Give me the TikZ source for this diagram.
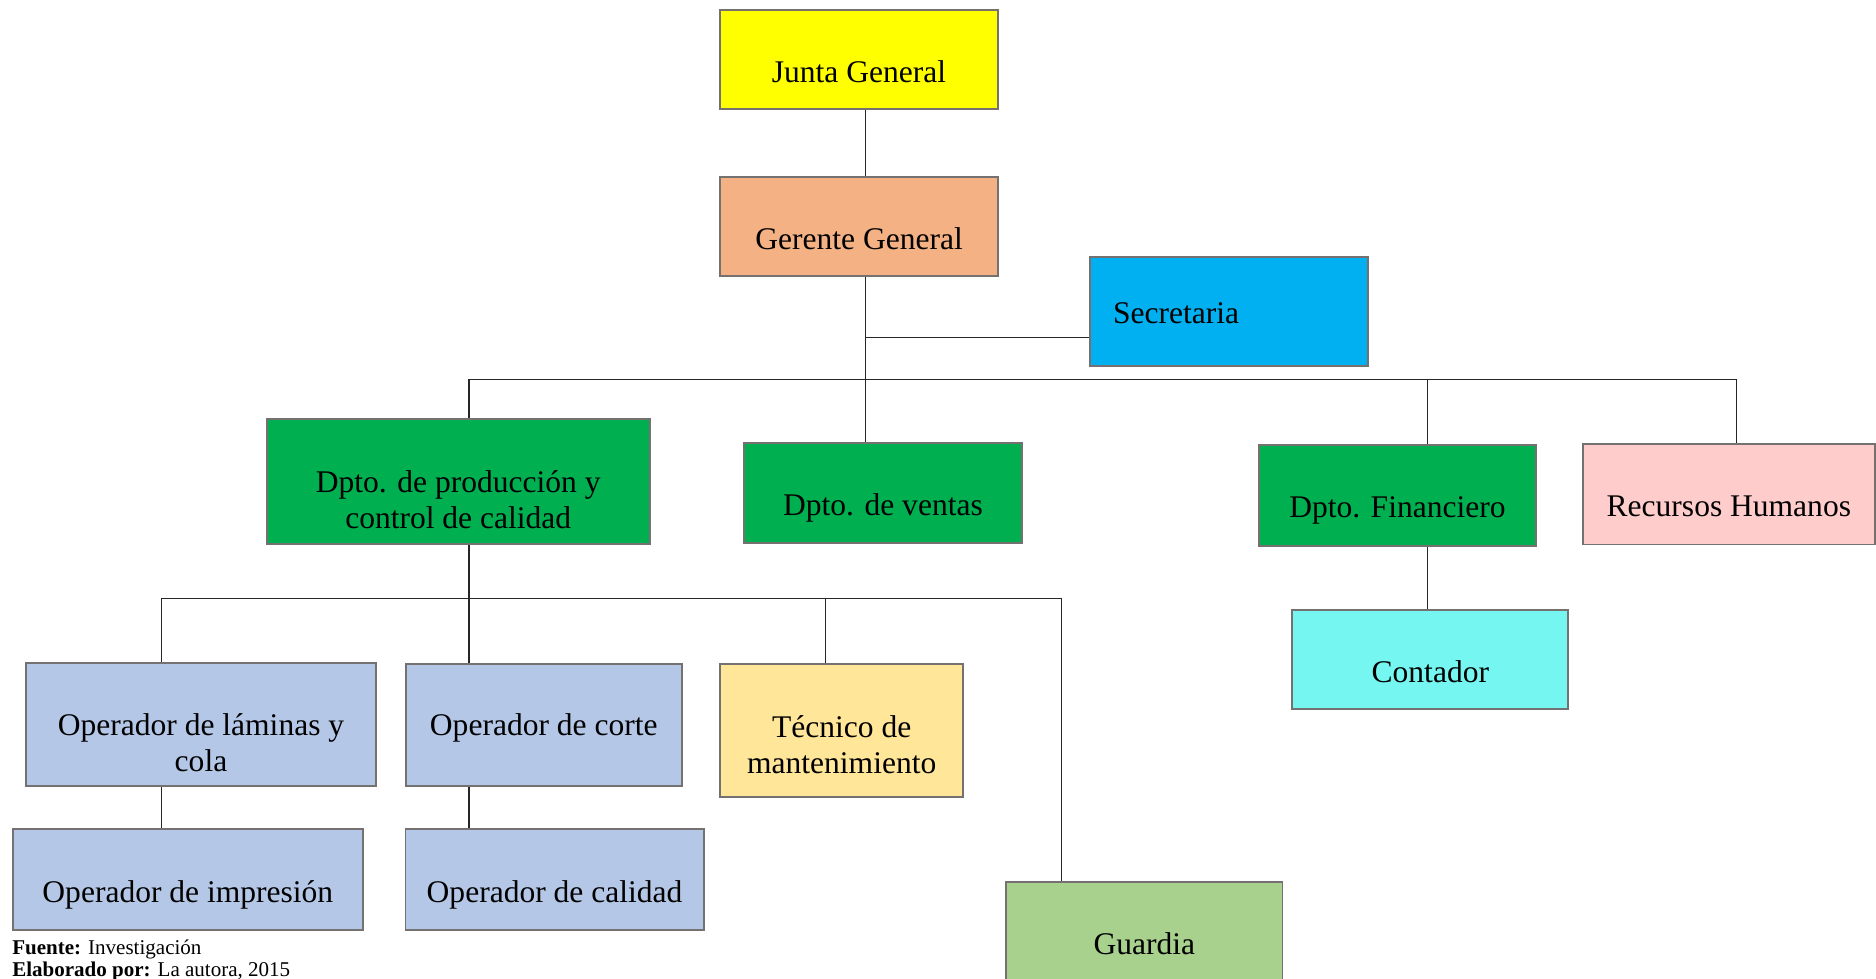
\documentclass[tikz,border=0pt]{standalone}
\usepackage{fontspec}
\setmainfont{Liberation Serif}
\usetikzlibrary{positioning}
\definecolor{cjunta}{HTML}{FFFF00}
\definecolor{cgerente}{HTML}{F4B183}
\definecolor{csecre}{HTML}{00B0F0}
\definecolor{cdpto}{HTML}{00B050}
\definecolor{crrhh}{HTML}{FFCCCC}
\definecolor{ccont}{HTML}{75F6F1}
\definecolor{coper}{HTML}{B4C7E7}
\definecolor{ctec}{HTML}{FFE699}
\definecolor{cguard}{HTML}{A9D18E}
\definecolor{cborde}{HTML}{767171}

\begin{document}
\begin{tikzpicture}[x=0.024cm, y=-0.024cm,
      font=\fontsize{18}{20.5}\selectfont,
      box/.style={draw=cborde, line width=1.1pt, inner sep=0pt},
      txt/.style={text depth=0pt, yshift=-0.24cm},
      txtb/.style={align=center, yshift=-0.36cm},
      ln/.style={line width=0.6pt, black!85},
      foot/.style={font=\fontsize{12}{13}\selectfont, inner sep=0pt, anchor=base west}]
  \useasboundingbox (0,0) rectangle (1568,818);
  % direccion
  \node[box, fill=cjunta, minimum width=5.57cm, minimum height=1.99cm,
        label={[txt]center:Junta General}] (junta) at (718,49.5) {};
  \node[box, fill=cgerente, minimum width=5.57cm, minimum height=1.99cm,
        label={[txt]center:Gerente General}] (gerente) at (718,189.5) {};
  \node[box, fill=csecre, minimum width=5.57cm, minimum height=2.18cm,
        label={[anchor=west, xshift=0.36cm, yshift=-0.04cm]west:Secretaria}] (secre) at (1027,260.5) {};
  % departamentos
  \node[box, fill=cdpto, minimum width=7.68cm, minimum height=2.52cm,
        label={[txtb]center:Dpto. de producción y\\control de calidad}] (prod) at (383,402.5) {};
  \node[box, fill=cdpto, minimum width=5.57cm, minimum height=2.02cm,
        label={[txt]center:Dpto. de ventas}] (ventas) at (738,412) {};
  \node[box, fill=cdpto, minimum width=5.57cm, minimum height=2.02cm,
        label={[txt]center:Dpto. Financiero}] (finan) at (1168,414) {};
  \node[box, fill=crrhh, minimum width=5.86cm, minimum height=2.02cm,
        label={[txt]center:Recursos Humanos}] (rrhh) at (1445,413) {};
  \node[box, fill=ccont, minimum width=5.54cm, minimum height=1.99cm,
        label={[txt]center:Contador}] (contador) at (1195.5,551.5) {};
  % produccion
  \node[box, fill=coper, minimum width=7.01cm, minimum height=2.47cm,
        label={[txtb]center:Operador de láminas y\\cola}] (laminas) at (168,605.5) {};
  \node[box, fill=coper, minimum width=5.54cm, minimum height=2.45cm,
        label={[text depth=0pt]center:Operador de corte}] (corte) at (454.5,606) {};
  \node[box, fill=ctec, minimum width=4.87cm, minimum height=2.66cm,
        label={[txtb, yshift=0.07cm]center:Técnico de\\mantenimiento}] (tecnico) at (703.5,610.5) {};
  \node[box, fill=coper, minimum width=7.01cm, minimum height=2.02cm,
        label={[txt]center:Operador de impresión}] (impresion) at (157,735) {};
  \node[box, fill=coper, minimum width=5.98cm, minimum height=2.02cm,
        label={[txt]center:Operador de calidad}] (calidad) at (463.5,735) {};
  \node[box, fill=cguard, minimum width=5.54cm, minimum height=2.02cm,
        label={[txt]center:Guardia}] (guardia) at (956.5,779) {};
  % puntos de las lineas
  \coordinate (tk) at (723,282);
  \coordinate (b1) at (392,317);
  \coordinate (b2) at (1193,317);
  \coordinate (b3) at (1451,317);
  \coordinate (c1) at (135,500);
  \coordinate (c2) at (392,500);
  \coordinate (c3) at (690,500);
  \coordinate (c4) at (887,500);
  % conectores
  \draw[ln] (junta.south -| tk) -- (gerente.north -| tk);
  \draw[ln] (gerente.south -| tk) -- (ventas.north -| tk);
  \draw[ln] (tk) -- (tk -| secre.west);
  \draw[ln] (prod.north -| b1) -- (b1) -- (b3) -- (rrhh.north -| b3);
  \draw[ln] (b2) -- (finan.north -| b2);
  \draw[ln] (finan.south -| b2) -- (contador.north -| b2);
  \draw[ln] (prod.south -| c2) -- (corte.north -| c2);
  \draw[ln] (laminas.north -| c1) -- (c1) -- (c4) -- (guardia.north -| c4);
  \draw[ln] (c3) -- (tecnico.north -| c3);
  \draw[ln] (laminas.south -| c1) -- (impresion.north -| c1);
  \draw[ln] (corte.south -| c2) -- (calidad.north -| c2);
  % fuente
  \node[foot] (fuente) at (10,798) {\textbf{Fuente:} Investigación};
  \node[foot] (autora) at (10,816) {\textbf{Elaborado por:} La autora, 2015};
\end{tikzpicture}
\end{document}
